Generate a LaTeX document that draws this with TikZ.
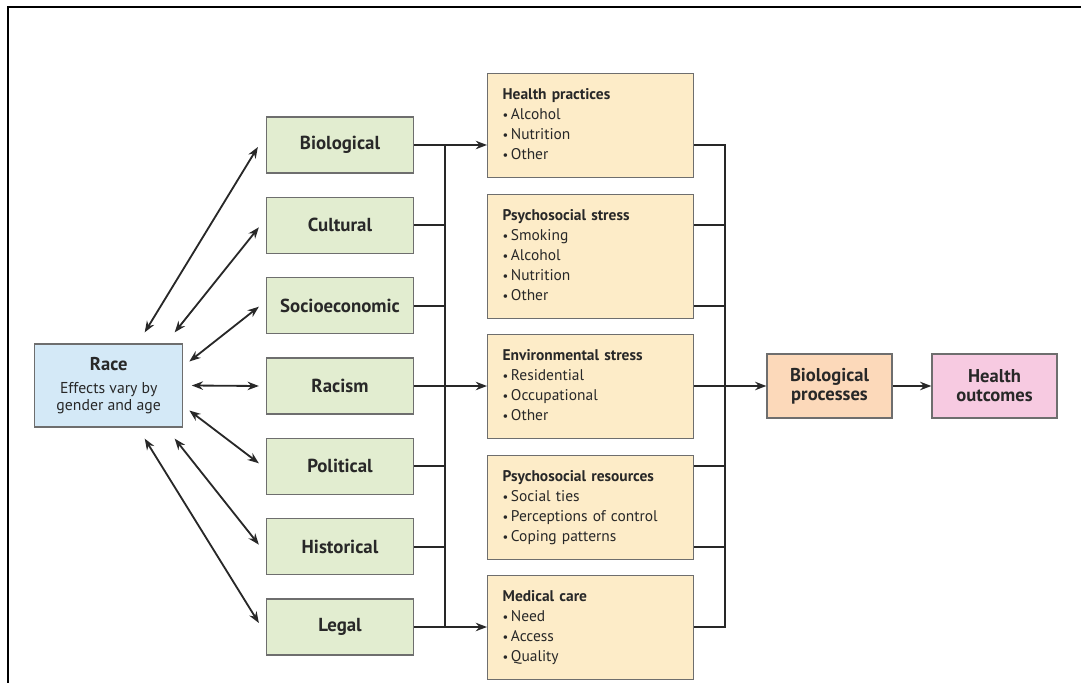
\documentclass[tikz,border=0pt]{standalone}
\usepackage{fontspec}
\setmainfont{PT Sans}
\usetikzlibrary{arrows.meta}
\definecolor{ink}{RGB}{40,40,40}
\definecolor{boxline}{RGB}{110,110,110}
\definecolor{factorfill}{RGB}{226,237,208}
\definecolor{pathfill}{RGB}{253,236,200}
\definecolor{racefill}{RGB}{212,233,247}
\definecolor{procfill}{RGB}{252,217,186}
\definecolor{outfill}{RGB}{247,202,225}
\newcommand{\itm}{{\small•}\,}
\begin{document}
\begin{tikzpicture}[x=0.25mm, y=0.25mm,
    factor/.style={rectangle, draw=boxline, line width=0.9pt, fill=factorfill, minimum width=36.75mm, minimum height=14mm, text=ink, font=\fontsize{13.4}{15}\selectfont\bfseries},
    racebox/.style={rectangle, draw=boxline, line width=0.9pt, fill=racefill, minimum width=37mm, minimum height=20.75mm, align=center, text=ink, font=\fontsize{11.2}{12.5}\selectfont},
    pathway/.style={rectangle, draw=boxline, line width=0.9pt, fill=pathfill, anchor=north west, text width=44mm, inner xsep=3.75mm, inner ysep=3.7mm, align=left, text=ink, font=\fontsize{11}{14.2}\selectfont, execute at end node=\vphantom{y}},
    endbox/.style={rectangle, draw=boxline, line width=0.9pt, minimum width=31.25mm, minimum height=16mm, align=center, text=ink, font=\fontsize{13.2}{13.5}\selectfont\bfseries},
    link/.style={ink, line width=1.3pt},
    arr/.style={link, -{Stealth[length=8pt, width=6pt]}},
    darr/.style={link, {Stealth[length=8pt, width=6pt]}-{Stealth[length=8pt, width=6pt]}}
]
\useasboundingbox (0,0) rectangle (1081,683);
\draw[line width=1.5pt] (1081,676) -- (8,676) -- (8,0);

% race and the seven factors
\node[racebox] (race) at (108.7,297.5) {{\fontsize{13.2}{14}\selectfont\bfseries Race}\\[4pt]Effects vary by\\gender and age};
\node[factor] (bio) at (340,538) {Biological};
\node[factor] (cult) at (340,457.7) {Cultural};
\node[factor] (soc) at (340,377.3) {Socioeconomic};
\node[factor] (racism) at (340,297) {Racism};
\node[factor] (pol) at (340,216.7) {Political};
\node[factor] (hist) at (340,136.3) {Historical};
\node[factor] (legal) at (340,56) {Legal};

% pathways
\node[pathway] (hp) at (487,610) {\textbf{Health practices}\\\itm Alcohol\\\itm Nutrition\\\itm Other};
\node[pathway] (pss) at (487,489) {\textbf{Psychosocial stress}\\\itm Smoking\\\itm Alcohol\\\itm Nutrition\\\itm Other};
\node[pathway] (env) at (487,349) {\textbf{Environmental stress}\\\itm Residential\\\itm Occupational\\\itm Other};
\node[pathway] (psr) at (487,228) {\textbf{Psychosocial resources}\\\itm Social ties\\\itm Perceptions of control\\\itm Coping patterns};
\node[pathway] (mc) at (487,108) {\textbf{Medical care}\\\itm Need\\\itm Access\\\itm Quality};

\node[endbox, fill=procfill] (bp) at (829.5,297) {Biological\\processes};
\node[endbox, fill=outfill] (ho) at (994.5,297) {Health\\outcomes};

\coordinate (lbtop) at (445,538);
\coordinate (lbbot) at (445,56);
\coordinate (rbtop) at (725,538);
\coordinate (rbbot) at (725,56);

% race <-> factors
\draw[darr] ([shift={(36,11)}]race.north) -- ([shift={(-8,-2)}]bio.west);
\draw[darr] ([shift={(66,11)}]race.north) -- ([shift={(-7,-2)}]cult.west);
\draw[darr] ([shift={(6,24)}]race.east) -- ([shift={(-7,-1)}]soc.west);
\draw[darr] ([xshift=6]race.east) -- ([xshift=-5]racism.west);
\draw[darr] ([shift={(6,-25)}]race.east) -- ([shift={(-7,3)}]pol.west);
\draw[darr] ([shift={(66,-11)}]race.south) -- ([shift={(-7,2)}]hist.west);
\draw[darr] ([shift={(36,-11)}]race.south) -- ([shift={(-7,4)}]legal.west);

% factors -> pathways
\draw[link] (bio.east) -- (lbtop) -- (lbbot) -- (legal.east);
\draw[link] (cult.east) -- (cult.east -| lbtop);
\draw[link] (soc.east) -- (soc.east -| lbtop);
\draw[link] (pol.east) -- (pol.east -| lbtop);
\draw[link] (hist.east) -- (hist.east -| lbtop);
\draw[arr] (lbtop) -- (hp.west |- lbtop);
\draw[arr] (racism.east) -- (env.west |- racism.east);
\draw[arr] (lbbot) -- (mc.west |- lbbot);

% pathways -> biological processes
\draw[link] (hp.east |- rbtop) -- (rbtop) -- (rbbot) -- (mc.east |- rbbot);
\draw[link] (pss.east |- cult.east) -- (rbtop |- cult.east);
\draw[link] (pss.east |- soc.east) -- (rbtop |- soc.east);
\draw[link] (psr.east |- pol.east) -- (rbtop |- pol.east);
\draw[link] (psr.east |- hist.east) -- (rbtop |- hist.east);
\draw[arr] (env.east |- bp.west) -- (bp.west);
\draw[arr] (bp) -- (ho);
\end{tikzpicture}
\end{document}
